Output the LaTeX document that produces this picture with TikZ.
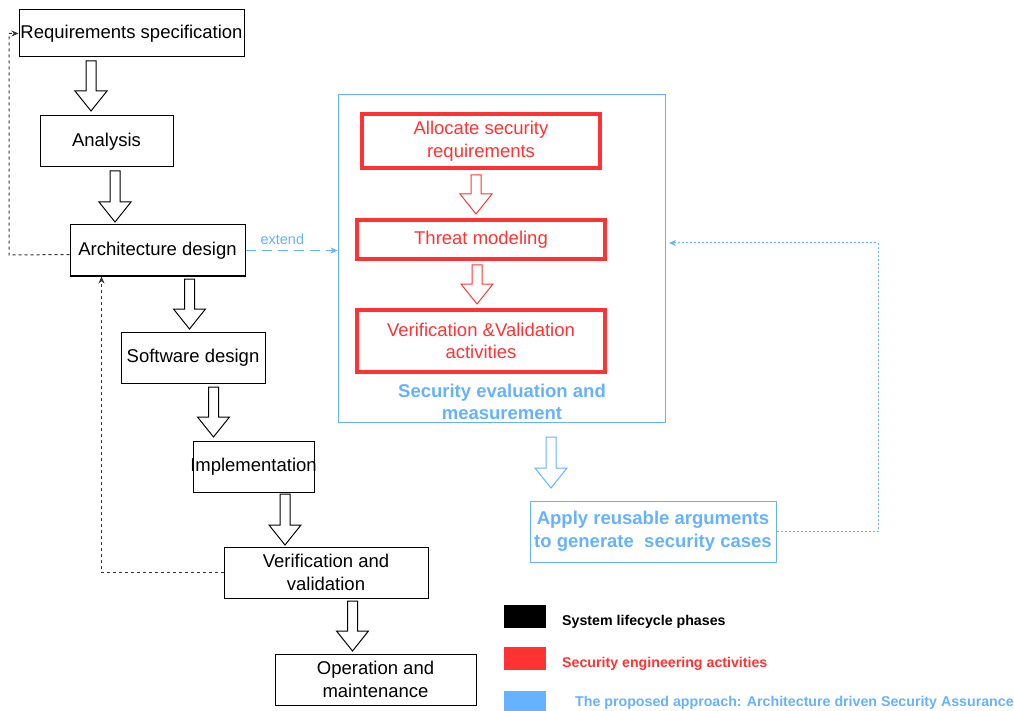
\documentclass[tikz,border=0pt]{standalone}
\usepackage{fontspec}
\setmainfont{Liberation Sans}
\usetikzlibrary{arrows.meta,calc}
\definecolor{secred}{HTML}{FF3333}
\definecolor{asblue}{HTML}{66B2FF}

% hollow block arrow: [colour] {x centre} {y top} {y tip}
\newcommand\blockarrow[4][black]{%
  \draw[draw=#1, fill=white, line width=1pt, line join=miter]
    (#2-5,#3) -- (#2+5,#3) -- (#2+5,#4-20) -- (#2+16,#4-20) -- (#2,#4)
    -- (#2-16,#4-20) -- (#2-5,#4-20) -- cycle;}

\begin{document}
\begin{tikzpicture}[x=1pt,y=-1pt,
  txt/.style={font=\fontsize{18.5}{22.5}\selectfont},
  phase/.style={txt, draw=black, line width=1pt, inner sep=0pt, align=center},
  activity/.style={txt, draw=secred, text=secred, line width=3.5pt, inner sep=0pt, align=center},
  dotblack/.style={black!80, line width=1pt, dash pattern=on 3pt off 3pt, -{Stealth[length=7pt,width=6pt]}},
  dotblue/.style={asblue, line width=1pt, dash pattern=on 2pt off 2pt, -{Stealth[length=7pt,width=6pt]}},
  extendline/.style={asblue, line width=1pt, dash pattern=on 10pt off 6pt, -{Stealth[length=7pt,width=6pt]}},
  legendbox/.style={minimum width=42pt, minimum height=23pt, inner sep=0pt},
  legendtext/.style={anchor=west, inner sep=0pt, font=\fontsize{14.2}{16}\selectfont\bfseries}
]
\useasboundingbox (0,0) rectangle (1014,711);

% system lifecycle phases
\node[phase, minimum width=225pt, minimum height=47pt] (req)  at (131.5,33.5)  {Requirements specification};
\node[phase, minimum width=133pt, minimum height=51pt] (ana)  at (106.5,141.5) {Analysis};
\node[phase, minimum width=175pt, minimum height=51pt] (arch) at (157.5,250.5) {Architecture design};
\node[phase, minimum width=144pt, minimum height=51pt] (sw)   at (193,357.5)   {Software design};
\node[phase, minimum width=121pt, minimum height=51pt] (impl) at (253.5,466.5) {\makebox[121pt]{Implementation}};
\node[phase, minimum width=204pt, minimum height=51pt] (vv)   at (326,572.5)   {Verification and\\validation};
\node[phase, minimum width=201pt, minimum height=51pt] (op)   at (375.5,679.5) {Operation and\\maintenance};

\blockarrow{91}{61}{111}
\blockarrow{115}{171}{222}
\blockarrow{189.5}{279}{329}
\blockarrow{213.5}{387}{437}
\blockarrow{285}{494}{545}
\blockarrow{352.5}{601}{651}

% feedback loops
\coordinate (fbA) at (9,255);
\draw[dotblack] ([yshift=-4pt]arch.west) -- (fbA) |- (req.west);
\draw[dotblack] (vv.west) -| ([xshift=32pt]arch.south west);

% security assurance container
\node[draw=asblue, line width=1pt, minimum width=327pt, minimum height=327pt, inner sep=0pt] (cont) at (501.5,258.5) {};
\node[activity, minimum width=238pt, minimum height=54pt] (alloc)  at (481,141)   {Allocate security\\requirements};
\node[activity, minimum width=248pt, minimum height=39pt] (threat) at (481,239.5) {Threat modeling};
\node[activity, minimum width=248pt, minimum height=62pt] (vva)    at (481,341)   {Verification \&Validation\\activities};
\node[text=asblue, font=\fontsize{18.5}{22.5}\selectfont\bfseries, align=center] (evl) at (502,402) {Security evaluation and\\measurement};

\blockarrow[secred]{476}{175}{214}
\blockarrow[secred]{477}{265}{304}

% extend relation
\draw[extendline] (arch.east) -- (arch.east -| cont.west) node[pos=0.4, above=5pt, font=\fontsize{14.5}{16}\selectfont, text=asblue, inner sep=0pt] {extend};

% reusable arguments
\blockarrow[asblue]{551}{437}{488}
\node[draw=asblue, line width=1pt, minimum width=246pt, minimum height=61pt, inner sep=0pt, align=center,
      text=asblue, font=\fontsize{18.5}{22.5}\selectfont\bfseries] (apply) at (653,531.5) {Apply reusable arguments\\to generate\ \ security cases};
\coordinate (fbC) at (878,243);
\coordinate (contIn) at (669,243);
\draw[dotblue] (apply.east) -| (fbC) -- (contIn);

% legend
\node[legendbox, fill=black]  (lg1) at (525,616.5) {};
\node[legendbox, fill=secred] (lg2) at (525,658)   {};
\node[legendbox, fill=asblue] (lg3) at (525,702)   {};
\node[legendtext, text=black]  (lt1) at (562,621.5) {System lifecycle phases};
\node[legendtext, text=secred] (lt2) at (562,663.5) {Security engineering activities};
\node[legendtext, text=asblue] (lt3) at (575,702.5) {The proposed approach: Architecture driven Security Assurance};
\end{tikzpicture}
\end{document}
